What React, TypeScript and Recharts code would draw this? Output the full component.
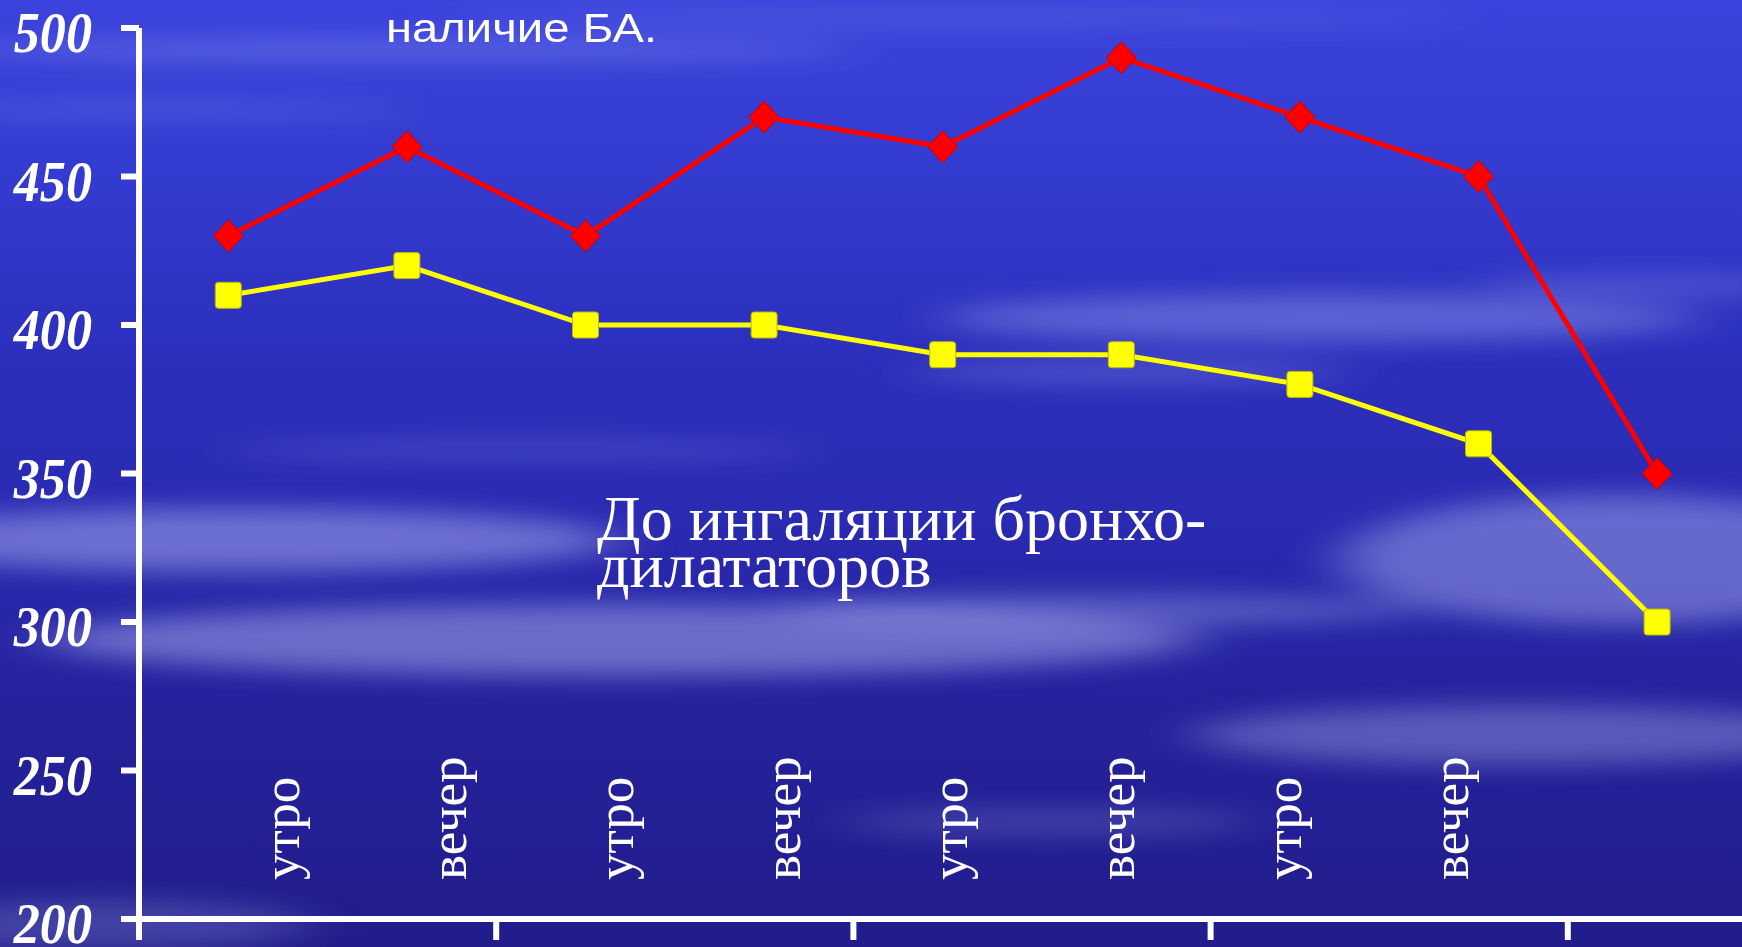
import React from "react";
import { LineChart, Line, XAxis, YAxis } from "recharts";

// Peak expiratory flow over four days, morning and evening readings
const slots = [
  "1 утро", "1 вечер", "2 утро", "2 вечер", "3 утро",
  "3 вечер", "4 утро", "4 вечер", "5 утро", "5 вечер",
];
const afterInhalation = [430, 460, 430, 470, 460, 490, 470, 450, 350, null];
const beforeInhalation = [410, 420, 400, 400, 390, 390, 380, 360, 300, null];
const periodLabels = ["утро", "вечер", "утро", "вечер", "утро", "вечер", "утро", "вечер"];
const yTicks = [200, 250, 300, 350, 400, 450, 500];
const headerLine = "наличие БА.";
const noteLines = ["До ингаляции бронхо-", "дилататоров"];

const data = slots.map((slot, i) => ({
  slot,
  after: afterInhalation[i],
  before: beforeInhalation[i],
}));

const CHART_W = 1960;
const CHART_H = 947;
const MARGIN = { top: 28, right: 35, bottom: 0, left: 0 };
const Y_AXIS_W = 139;
const PLOT_W = CHART_W - MARGIN.left - MARGIN.right - Y_AXIS_W;
const BAND = PLOT_W / slots.length;

// soft cloud streaks across the sky backdrop
const clouds = [
  { cx: 400, cy: 50, rx: 460, ry: 10, o: 0.26 },
  { cx: 150, cy: 110, rx: 260, ry: 7, o: 0.2 },
  { cx: 950, cy: 18, rx: 520, ry: 9, o: 0.14 },
  { cx: 1320, cy: 318, rx: 380, ry: 24, o: 0.3 },
  { cx: 1130, cy: 372, rx: 220, ry: 12, o: 0.22 },
  { cx: 1650, cy: 285, rx: 170, ry: 8, o: 0.28 },
  { cx: 240, cy: 540, rx: 380, ry: 32, o: 0.42 },
  { cx: 620, cy: 640, rx: 580, ry: 36, o: 0.42 },
  { cx: 1100, cy: 610, rx: 320, ry: 16, o: 0.3 },
  { cx: 1620, cy: 560, rx: 280, ry: 65, o: 0.38 },
  { cx: 1520, cy: 735, rx: 330, ry: 30, o: 0.32 },
  { cx: 100, cy: 925, rx: 210, ry: 26, o: 0.2 },
  { cx: 1050, cy: 822, rx: 210, ry: 14, o: 0.18 },
  { cx: 520, cy: 450, rx: 300, ry: 12, o: 0.14 },
];

const YTick = (props: any) => {
  const { x, y, payload } = props;
  return (
    <g transform={`translate(${x},${y + 5})`}>
      <text
        transform="scale(0.9,1)"
        textAnchor="end"
        dominantBaseline="central"
        fill="#ffffff"
        fontFamily="'Liberation Serif', serif"
        fontStyle="italic"
        fontWeight="bold"
        fontSize={58}
      >
        {payload.value}
      </text>
    </g>
  );
};

const PeriodTick = (props: any) => {
  const { x, y, payload } = props;
  return (
    <text
      transform={`translate(${x + 10},${y - 66}) rotate(-90)`}
      fill="#ffffff"
      fontFamily="'Liberation Serif', serif"
      fontSize={53}
      textAnchor="start"
    >
      {periodLabels[payload.value]}
    </text>
  );
};

const DayBoundaryTick = (props: any) => {
  const { x, y, index } = props;
  if (index % 2 !== 0) return <g />;
  const bx = x - BAND / 2;
  return <line x1={bx} x2={bx} y1={y} y2={y + 21} stroke="#ffffff" strokeWidth={6} />;
};

const DiamondDot = (props: any) => {
  const { cx, cy } = props;
  if (cx == null || cy == null) return <g />;
  return (
    <polygon
      points={`${cx},${cy - 16} ${cx + 15},${cy} ${cx},${cy + 16} ${cx - 15},${cy}`}
      fill="#ff0000"
      stroke="#c80000"
      strokeWidth={1}
    />
  );
};

const SquareDot = (props: any) => {
  const { cx, cy } = props;
  if (cx == null || cy == null) return <g />;
  return (
    <rect
      x={cx - 13}
      y={cy - 13}
      width={26}
      height={26}
      rx={3}
      fill="#ffff00"
      stroke="#b8b800"
      strokeWidth={1}
    />
  );
};

export default function App() {
  return (
    <div
      style={{
        position: "fixed",
        left: 0,
        top: 0,
        width: 1742,
        height: 947,
        overflow: "hidden",
        background:
          "linear-gradient(180deg, #3b43dc 0%, #343bd0 18%, #2c2fbc 38%, #2a2ab2 55%, #25229c 75%, #211d8c 100%)",
      }}
    >
      <svg width={1742} height={947} style={{ position: "absolute", left: 0, top: 0 }}>
        <defs>
          <filter id="cloudBlur" x="-50%" y="-300%" width="200%" height="700%">
            <feGaussianBlur stdDeviation="30 12" />
          </filter>
        </defs>
        <g filter="url(#cloudBlur)">
          {clouds.map((c, i) => (
            <ellipse key={i} cx={c.cx} cy={c.cy} rx={c.rx} ry={c.ry} fill="#c8d0ff" opacity={c.o} />
          ))}
        </g>
      </svg>

      <div style={{ position: "absolute", left: 0, top: 0 }}>
        <LineChart width={CHART_W} height={CHART_H} data={data} margin={MARGIN}>
          <XAxis
            xAxisId="period"
            dataKey="periodPosition"
            type="number"
            domain={[-0.9, 9.8]}
            allowDataOverflow
            ticks={periodLabels.map((_, i) => i)}
            interval={0}
            height={1}
            tickSize={0}
            tickMargin={0}
            axisLine={false}
            tickLine={false}
            tick={<PeriodTick />}
          />
          <XAxis
            dataKey="slot"
            type="category"
            height={27}
            interval={0}
            padding={{ left: BAND / 2, right: BAND / 2 }}
            tickSize={0}
            tickMargin={0}
            tickLine={false}
            axisLine={{ stroke: "#ffffff", strokeWidth: 6 }}
            tick={<DayBoundaryTick />}
          />
          <YAxis
            domain={[200, 500]}
            ticks={yTicks}
            interval={0}
            width={Y_AXIS_W}
            tickSize={18}
            tickMargin={29}
            axisLine={{ stroke: "#ffffff", strokeWidth: 6 }}
            tickLine={{ stroke: "#ffffff", strokeWidth: 6 }}
            tick={<YTick />}
          />
          <Line
            dataKey="before"
            stroke="#ffff00"
            strokeWidth={5}
            dot={<SquareDot />}
            activeDot={false}
            isAnimationActive={false}
          />
          <Line
            dataKey="after"
            stroke="#ff0000"
            strokeWidth={5}
            dot={<DiamondDot />}
            activeDot={false}
            isAnimationActive={false}
          />
        </LineChart>
      </div>

      <svg
        width={1742}
        height={947}
        style={{ position: "absolute", left: 0, top: 0, pointerEvents: "none" }}
      >
        <g transform="translate(386,42) scale(1.18,1)">
          <text
            x={0}
            y={0}
            fill="#ffffff"
            fontFamily="'Liberation Sans', Arial, sans-serif"
            fontSize={40}
          >
            {headerLine}
          </text>
        </g>
        {noteLines.map((line, i) => (
          <text
            key={i}
            x={597}
            y={540 + i * 47}
            fill="#ffffff"
            fontFamily="'Liberation Serif', serif"
            fontSize={64}
          >
            {line}
          </text>
        ))}
      </svg>
    </div>
  );
}
